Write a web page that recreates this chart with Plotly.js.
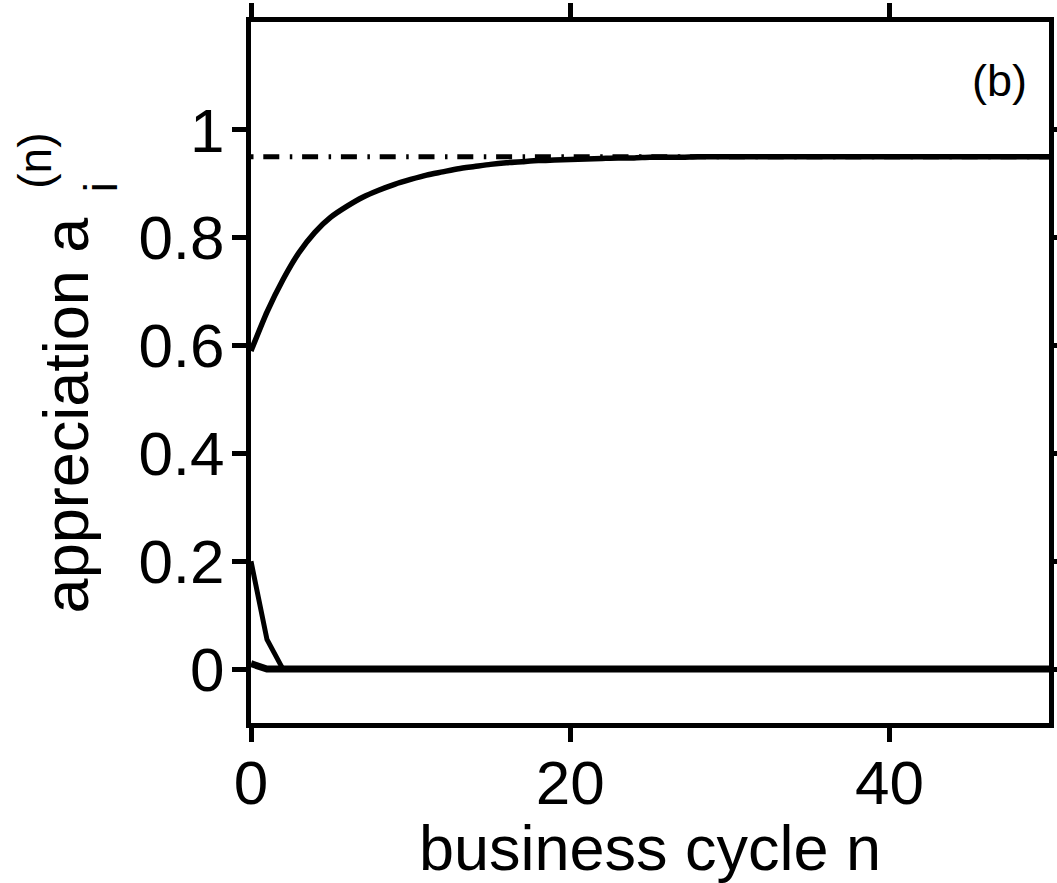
<!DOCTYPE html>
<html>
<head>
<meta charset="utf-8">
<script src="https://cdn.plot.ly/plotly-3.0.1.min.js"></script>
<style>html,body{margin:0;padding:0;background:#fff;}#chart{width:1057px;height:883px;}</style>
</head>
<body>
<div id="chart"></div>
<script>
// business cycle index n = 0..50
const cycles = [];
for (let k = 0; k <= 50; k++) cycles.push(k);

// appreciation of the rising agent
const appreciationHigh = [
  0.590, 0.662, 0.722, 0.772, 0.810, 0.838, 0.858, 0.875, 0.888, 0.899,
  0.908, 0.916, 0.922, 0.928, 0.932, 0.936, 0.939, 0.941, 0.943, 0.944,
  0.945, 0.946, 0.947, 0.948, 0.948, 0.949, 0.949, 0.949, 0.950, 0.950,
  0.950, 0.950, 0.950, 0.950, 0.950, 0.950, 0.950, 0.950, 0.950, 0.950,
  0.950, 0.950, 0.950, 0.950, 0.950, 0.950, 0.950, 0.950, 0.950, 0.950,
  0.950
];
// appreciation of a decaying agent
const appreciationMid = [0.200, 0.055, 0, 0, 0, 0, 0, 0, 0, 0,
  0, 0, 0, 0, 0, 0, 0, 0, 0, 0, 0, 0, 0, 0, 0, 0, 0, 0, 0, 0,
  0, 0, 0, 0, 0, 0, 0, 0, 0, 0, 0, 0, 0, 0, 0, 0, 0, 0, 0, 0, 0];
// appreciation of the remaining agents
const appreciationLow = [0.010, 0, 0, 0, 0, 0, 0, 0, 0, 0,
  0, 0, 0, 0, 0, 0, 0, 0, 0, 0, 0, 0, 0, 0, 0, 0, 0, 0, 0, 0,
  0, 0, 0, 0, 0, 0, 0, 0, 0, 0, 0, 0, 0, 0, 0, 0, 0, 0, 0, 0, 0];
// asymptotic level (dash-dot reference)
const limitX = [0, 50];
const limitY = [0.95, 0.95];

const xTicks = [0, 20, 40];
const xTickText = ['0', '20', '40'];
const yTicks = [0, 0.2, 0.4, 0.6, 0.8, 1];
const yTickText = ['0', '0.2', '0.4', '0.6', '0.8', '1'];

const FONT = 'Liberation Sans, Arial, Helvetica, sans-serif';

const traces = [
  {x: limitX, y: limitY, mode: 'lines',
   line: {color: '#000', width: 5, dash: '2.5px,9.8px,16px,10.5px'}},
  {x: cycles, y: appreciationLow, mode: 'lines', line: {color: '#000', width: 7}},
  {x: cycles, y: appreciationMid, mode: 'lines', line: {color: '#000', width: 5}},
  {x: cycles, y: appreciationHigh, mode: 'lines', line: {color: '#000', width: 5.5, shape: 'spline', smoothing: 0.6}}
];

const axisCommon = {
  showline: true, linecolor: '#000', linewidth: 5, mirror: 'ticks',
  ticks: 'outside', ticklen: 14, tickwidth: 5, tickcolor: '#000',
  showgrid: false, zeroline: false,
  tickfont: {family: FONT, size: 62, color: '#000'}
};

const layout = {
  width: 1057, height: 883,
  margin: {l: 251, r: 8, t: 22, b: 160, pad: 0},
  paper_bgcolor: '#fff', plot_bgcolor: '#fff',
  showlegend: false,
  font: {family: FONT, color: '#000'},
  xaxis: Object.assign({}, axisCommon, {
    range: [0, 50], tickvals: xTicks, ticktext: xTickText,
    ticklabelstandoff: -12,
    title: {text: 'business cycle n', font: {family: FONT, size: 63, color: '#000'}, standoff: 2}
  }),
  yaxis: Object.assign({}, axisCommon, {
    range: [-0.1, 1.2], tickvals: yTicks, ticktext: yTickText,
    ticklabelstandoff: -5
  }),
  annotations: [
    {text: 'appreciation a', textangle: -90, showarrow: false,
     xref: 'paper', yref: 'paper', x: -0.2323, y: 0.4397,
     xanchor: 'center', yanchor: 'middle',
     font: {family: FONT, size: 63, color: '#000'}},
    {text: 'i', textangle: -90, showarrow: false,
     xref: 'paper', yref: 'paper', x: -0.1885, y: 0.7637,
     xanchor: 'center', yanchor: 'middle',
     font: {family: FONT, size: 46, color: '#000'}},
    {text: '(n)', textangle: -90, showarrow: false,
     xref: 'paper', yref: 'paper', x: -0.2711, y: 0.8016,
     xanchor: 'center', yanchor: 'middle',
     font: {family: FONT, size: 46, color: '#000'}},
    {text: '(b)', showarrow: false,
     xref: 'paper', yref: 'paper', x: 0.9755, y: 0.916,
     xanchor: 'right', yanchor: 'middle',
     font: {family: FONT, size: 45, color: '#000'}}
  ]
};

Plotly.newPlot('chart', traces, layout, {staticPlot: true, displayModeBar: false});
</script>
</body>
</html>
